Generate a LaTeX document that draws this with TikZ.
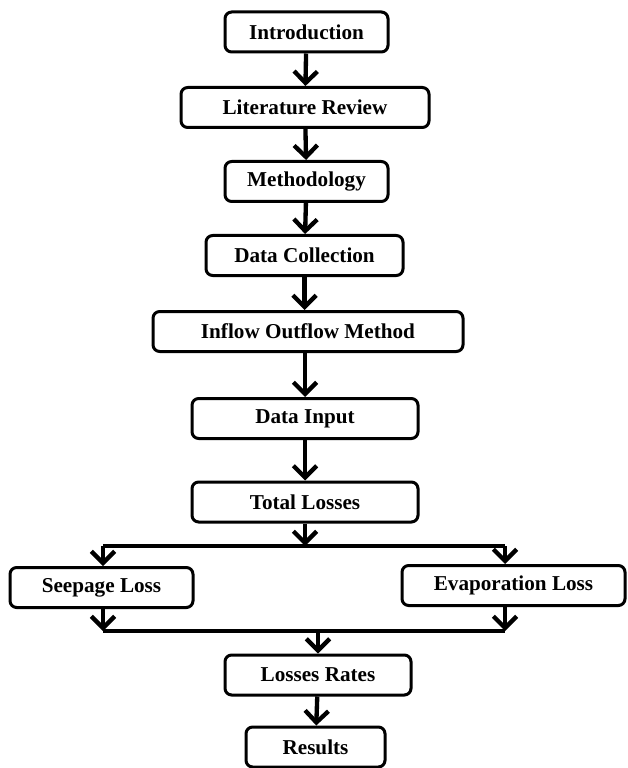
\documentclass[tikz,border=0pt]{standalone}
\usepackage{fontspec}
\setmainfont{Liberation Serif}
\usetikzlibrary{arrows.meta}

\begin{document}
\begin{tikzpicture}[
x=0.6pt, y=-0.6pt,
stage/.style={draw, line width=1.8pt, rounded corners=4pt, minimum height=24pt, inner sep=0pt,
  font=\fontsize{12.7}{15}\selectfont\bfseries},
flow/.style={-{Straight Barb[length=7pt, width=14pt]}, line width=2.6pt},
link/.style={line width=2.6pt}
]
\useasboundingbox (0,0) rectangle (627,768);

\node[stage, minimum width=97.8pt] (intro) at (306.5,32) {Introduction};
\node[stage, minimum width=148.8pt] (litrev) at (305,107.5) {Literature Review};
\node[stage, minimum width=97.8pt] (method) at (306.5,181.5) {Methodology};
\node[stage, minimum width=118.2pt] (datacol) at (304.5,255.5) {Data Collection};
\node[stage, minimum width=186pt] (inflow) at (308,331.5) {Inflow Outflow Method};
\node[stage, minimum width=135.6pt] (datain) at (305,418.5) {Data Input};
\node[stage, minimum width=135.6pt] (total) at (305,502) {Total Losses};

\node[stage, minimum width=109.8pt] (seepage) at (101.5,587.5) {Seepage Loss};
\node[stage, minimum width=133.8pt] (evap) at (513.5,585.5) {Evaporation Loss};

\node[stage, minimum width=111.6pt] (rates) at (318,675) {Losses Rates};
\node[stage, minimum width=83.4pt] (results) at (315.5,747) {Results};

\coordinate (splitL) at (103,546);
\coordinate (splitR) at (505,546);
\coordinate (mergeL) at (103,631);
\coordinate (mergeR) at (505,631);

\draw[flow] (intro) -- (litrev);
\draw[flow] (litrev) -- (method);
\draw[flow] (method) -- (datacol);
\draw[flow] (datacol) -- (inflow.north -| datacol);
\draw[flow] (inflow.south -| datain) -- (datain);
\draw[flow] (datain) -- (total);

% split into the two losses
\draw[flow] (total) -- (total |- splitL);
\draw[link] (splitL) -- (splitR);
\draw[flow] (splitL) -- (seepage.north -| splitL);
\draw[flow] (splitR) -- (evap.north -| splitR);

% and back together
\draw[flow] (seepage.south -| mergeL) -- (mergeL);
\draw[flow] (evap.south -| mergeR) -- (mergeR);
\draw[link] (mergeL) -- (mergeR);
\draw[flow] (rates |- mergeL) -- (rates);
\draw[flow] (rates) -- (results);
\end{tikzpicture}
\end{document}
